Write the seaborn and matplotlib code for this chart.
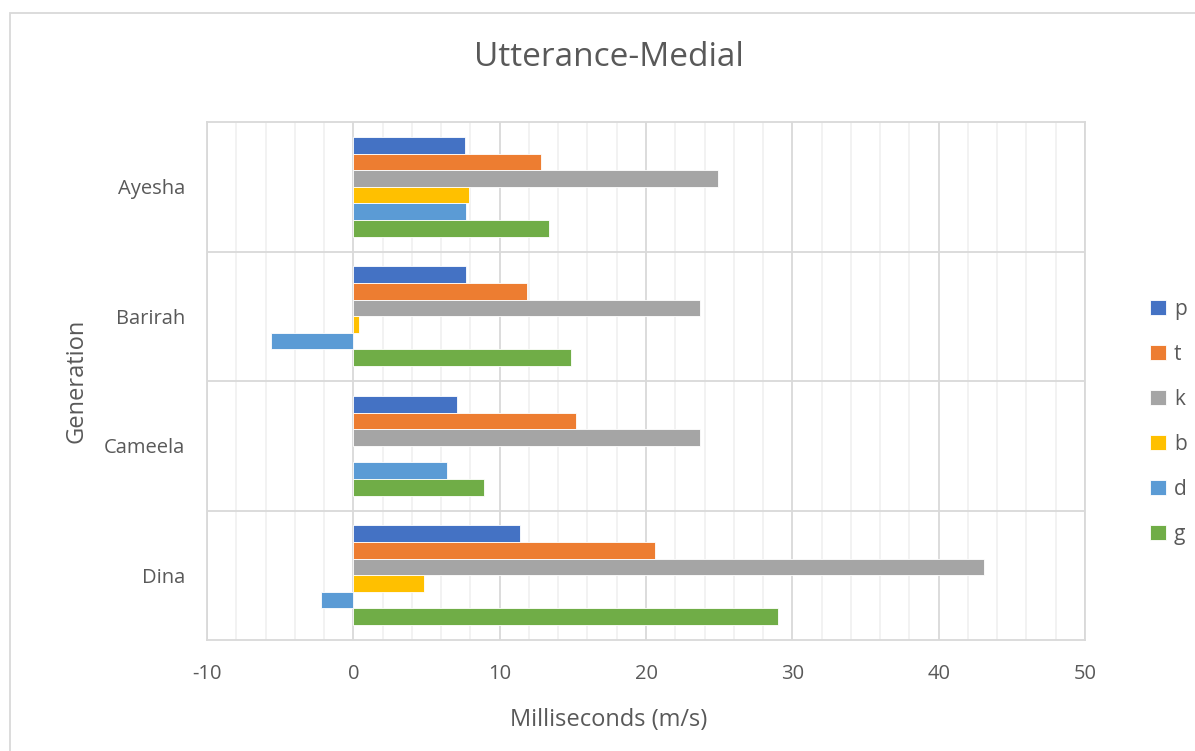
import numpy as np
import pandas as pd
import matplotlib
matplotlib.use("Agg")
import matplotlib.pyplot as plt
from matplotlib.patches import Rectangle
from matplotlib.ticker import MultipleLocator
import seaborn as sns

# Mean durations (ms) per speaker and stop consonant
speakers = ["Ayesha", "Barirah", "Cameela", "Dina"]
sounds = ["p", "t", "k", "b", "d", "g"]
p_vals = [7.6, 7.7, 7.1, 11.4]
t_vals = [12.8, 11.9, 15.2, 20.6]
k_vals = [24.9, 23.7, 23.7, 43.1]
b_vals = [7.9, 0.4, np.nan, 4.8]
d_vals = [7.7, -5.6, 6.4, -2.2]
g_vals = [13.4, 14.9, 8.9, 29.0]

colors = ["#4472C4", "#ED7D31", "#A5A5A5", "#FFC000", "#5B9BD5", "#70AD47"]

series = dict(zip(sounds, [p_vals, t_vals, k_vals, b_vals, d_vals, g_vals]))
df = pd.DataFrame(
    [(spk, snd, series[snd][i]) for i, spk in enumerate(speakers) for snd in sounds],
    columns=["speaker", "sound", "value"],
)

sns.set_theme(style="white")
plt.rcParams["font.family"] = ["Open Sans", "DejaVu Sans"]
plt.rcParams["axes.unicode_minus"] = False
text_col = "#595959"
grid_major = "#D9D9D9"
grid_minor = "#F0F0F0"

W, H = 1195, 751
L, R, T, B = 207, 1085, 122, 640
fig = plt.figure(figsize=(W / 100, H / 100), dpi=100)
ax = fig.add_axes([L / W, 1 - B / H, (R - L) / W, (B - T) / H])

sns.barplot(
    data=df, x="value", y="speaker", hue="sound", order=speakers, hue_order=sounds,
    orient="h", palette=colors, saturation=1, width=0.77, errorbar=None,
    edgecolor="white", linewidth=0.6, ax=ax, zorder=3,
)

ax.set_xlim(-10, 50)
ax.set_ylim(3.5, -0.5)
ax.xaxis.set_major_locator(MultipleLocator(10))
ax.xaxis.set_minor_locator(MultipleLocator(2))
ax.grid(which="minor", axis="x", color=grid_minor, linewidth=1.2, zorder=0)
ax.grid(which="major", axis="x", color=grid_major, linewidth=1.3, zorder=1)
for yb in np.arange(0.5, 3.5, 1.0):
    ax.axhline(yb, color=grid_major, linewidth=1.3, zorder=1)
for s in ax.spines.values():
    s.set_color(grid_major)
    s.set_linewidth(1.3)
ax.set_axisbelow(True)

ax.tick_params(axis="both", which="both", length=0, labelsize=14.5, colors=text_col)
ax.tick_params(axis="y", pad=15.5)
ax.tick_params(axis="x", pad=17)
ax.set_xlabel("Milliseconds (m/s)", fontsize=17, color=text_col)
ax.set_ylabel("Generation", fontsize=17, color=text_col)
ax.xaxis.set_label_coords((609 - L) / (R - L), (B - 720) / (B - T))
ax.yaxis.set_label_coords((77 - L) / (R - L), (B - 381) / (B - T))
ax.xaxis.label.set_va("center")
ax.yaxis.label.set_va("center")

handles, labels = ax.get_legend_handles_labels()
ax.legend(
    handles, labels, loc="center left", bbox_to_anchor=(1150 / W, 1 - 422 / H),
    bbox_transform=fig.transFigure, frameon=False, fontsize=15,
    borderaxespad=0, borderpad=0,
    handlelength=0.75, handleheight=0.75, handletextpad=0.4, labelspacing=1.15,
    labelcolor=text_col,
)

fig.text((476 + 742) / 2 / W, 1 - 58 / H, "Utterance-Medial",
         ha="center", va="center", fontsize=24, color=text_col)

fig.patches.append(Rectangle((10 / W, -0.05), 1.1, 1 - 13 / H + 0.05,
                             transform=fig.transFigure, fill=False,
                             edgecolor=grid_major, linewidth=1.3))

fig.savefig("out.png", dpi=100, facecolor="white")
